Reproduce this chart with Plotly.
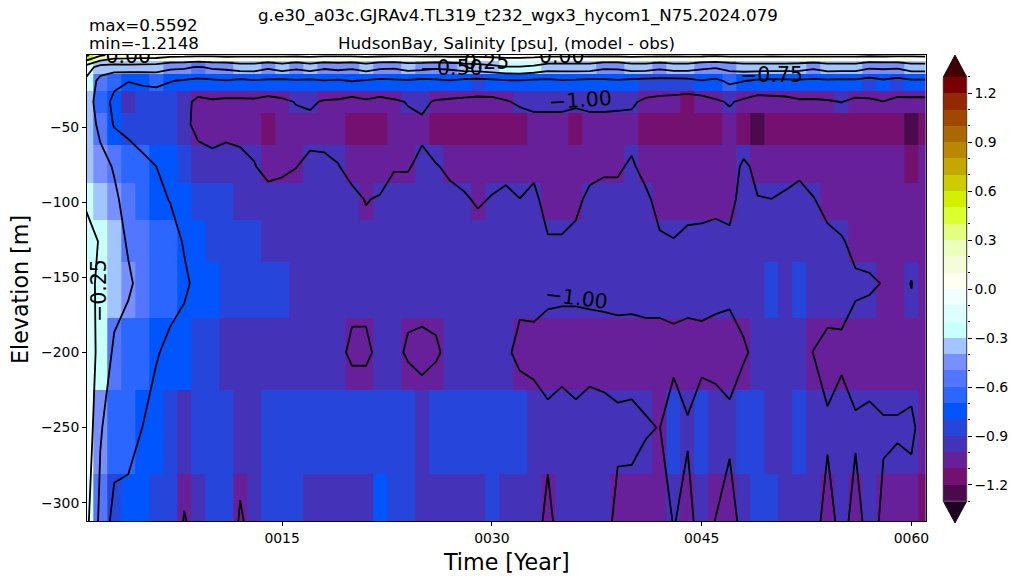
import plotly.graph_objects as go

# ---------------- data ----------------
years = list(range(1, 62))                      # time axis (year centres)
depth_m = [1.9, 10, 19, 33, 48, 76, 98, 126, 154, 200, 250, 312.2]   # layer centres [m]

# salinity difference (model - obs) [psu], one list per depth level, years 1..61
row_d002 = [0.55, 0.30, 0.16, 0.14, 0.13, 0.12, 0.08, 0.07, 0.06, 0.06,
            0.07, 0.06, 0.06, 0.07, 0.06, 0.06, 0.07, 0.06, 0.05, 0.06,
            0.07, 0.06, 0.06, 0.05, 0.06, 0.06, 0.07, 0.06, 0.06, 0.07,
            0.08, 0.08, 0.07, 0.06, 0.06, 0.06, 0.05, 0.06, 0.06, 0.07,
            0.06, 0.06, 0.05, 0.06, 0.06, 0.05, 0.06, 0.06, 0.06, 0.05,
            0.06, 0.06, 0.07, 0.06, 0.06, 0.06, 0.05, 0.06, 0.06, 0.05,
            0.06]
row_d010 = [-0.12, -0.36, -0.38, -0.36, -0.37, -0.38, -0.45, -0.46, -0.52, -0.46,
            -0.44, -0.38, -0.38, -0.46, -0.38, -0.45, -0.38, -0.46, -0.42, -0.46,
            -0.38, -0.45, -0.47, -0.40, -0.42, -0.46, -0.44, -0.38, -0.36, -0.32,
            -0.27, -0.27, -0.30, -0.38, -0.38, -0.38, -0.38, -0.45, -0.45, -0.38,
            -0.38, -0.44, -0.38, -0.38, -0.45, -0.48, -0.42, -0.38, -0.38, -0.38,
            -0.38, -0.40, -0.45, -0.38, -0.38, -0.38, -0.46, -0.45, -0.46, -0.38,
            -0.38]
row_d019 = [-0.30, -0.58, -0.70, -0.74, -0.72, -0.70, -0.74, -0.77, -0.80, -0.78,
            -0.76, -0.80, -0.77, -0.78, -0.80, -0.77, -0.79, -0.76, -0.78, -0.74,
            -0.77, -0.80, -0.78, -0.77, -0.80, -0.78, -0.76, -0.80, -0.82, -0.80,
            -0.77, -0.76, -0.79, -0.80, -0.77, -0.78, -0.80, -0.79, -0.77, -0.80,
            -0.82, -0.82, -0.83, -0.82, -0.76, -0.80, -0.70, -0.74, -0.78, -0.80,
            -0.79, -0.78, -0.80, -0.78, -0.80, -0.79, -0.84, -0.78, -0.83, -0.78,
            -0.78]
row_d033 = [-0.36, -0.64, -0.80, -0.91, -0.85, -0.86, -0.89, -0.93, -1.06, -1.03,
            -1.05, -1.04, -1.04, -1.08, -1.04, -0.99, -0.97, -1.02, -1.03, -1.08,
            -1.03, -1.06, -1.03, -0.99, -0.96, -1.02, -1.04, -1.05, -1.06, -1.06,
            -1.02, -0.96, -0.95, -0.95, -0.95, -0.95, -0.95, -0.95, -0.96, -0.97,
            -1.04, -1.07, -1.08, -1.11, -1.10, -1.03, -0.98, -1.04, -1.10, -1.08,
            -1.07, -1.03, -1.03, -1.02, -0.995, -1.05, -1.03, -1.005, -1.05, -1.06,
            -1.06]
row_d048 = [-0.36, -0.56, -0.77, -0.82, -0.85, -0.86, -0.90, -0.95, -1.06, -1.06,
            -1.06, -1.06, -1.07, -1.13, -1.06, -1.06, -1.05, -1.05, -1.06, -1.13,
            -1.12, -1.12, -1.05, -1.04, -1.03, -1.12, -1.13, -1.13, -1.12, -1.12,
            -1.13, -1.13, -1.06, -1.06, -1.06, -1.13, -1.06, -1.06, -1.06, -1.06,
            -1.14, -1.14, -1.14, -1.14, -1.14, -1.14, -1.07, -1.14, -1.24, -1.14,
            -1.14, -1.14, -1.14, -1.14, -1.14, -1.14, -1.14, -1.14, -1.14, -1.24,
            -1.14]
row_d076 = [-0.33, -0.42, -0.52, -0.62, -0.70, -0.75, -0.80, -0.86, -0.91, -0.955,
            -0.92, -0.95, -0.99, -1.06, -1.03, -1.003, -0.97, -0.975, -0.995, -1.04,
            -1.06, -1.06, -1.01, -1.01, -0.97, -0.99, -1.03, -1.06, -1.06, -1.06,
            -1.04, -1.06, -1.03, -1.08, -1.08, -1.07, -1.04, -1.02, -1.02, -0.98,
            -1.05, -1.08, -1.08, -1.08, -1.08, -1.08, -1.08, -0.97, -1.04, -1.06,
            -1.05, -1.03, -1.06, -1.07, -1.08, -1.08, -1.08, -1.08, -1.06, -1.13,
            -1.08]
row_d098 = [-0.27, -0.36, -0.46, -0.58, -0.66, -0.72, -0.755, -0.80, -0.84, -0.86,
            -0.88, -0.92, -0.93, -0.93, -0.94, -0.95, -0.95, -0.95, -0.96, -0.97,
            -1.005, -0.99, -0.95, -0.95, -0.94, -0.95, -0.96, -0.98, -1.02, -0.99,
            -0.97, -0.998, -0.97, -1.05, -1.05, -1.03, -0.97, -0.96, -0.96, -0.95,
            -0.97, -1.05, -1.06, -1.04, -1.04, -1.03, -1.04, -0.95, -0.995, -0.999,
            -0.98, -0.96, -0.995, -1.04, -1.06, -1.07, -1.07, -1.07, -1.06, -1.08,
            -1.08]
row_d126 = [-0.20, -0.26, -0.38, -0.53, -0.60, -0.65, -0.70, -0.76, -0.80, -0.82,
            -0.85, -0.87, -0.89, -0.92, -0.94, -0.95, -0.95, -0.94, -0.95, -0.96,
            -0.97, -0.96, -0.95, -0.95, -0.94, -0.95, -0.95, -0.95, -0.93, -0.95,
            -0.95, -0.95, -0.95, -0.99, -0.99, -0.97, -0.95, -0.95, -0.95, -0.95,
            -0.96, -0.982, -0.995, -0.975, -0.97, -0.965, -0.975, -0.95, -0.95, -0.96,
            -0.95, -0.95, -0.96, -0.97, -0.99, -1.03, -1.03, -1.05, -1.06, -1.05,
            -1.08]
row_d154 = [-0.17, -0.30, -0.38, -0.46, -0.58, -0.64, -0.70, -0.73, -0.78, -0.80,
            -0.84, -0.85, -0.86, -0.87, -0.88, -0.93, -0.94, -0.94, -0.94, -0.95,
            -0.95, -0.94, -0.94, -0.95, -0.95, -0.94, -0.94, -0.93, -0.94, -0.94,
            -0.94, -0.95, -0.95, -0.97, -0.975, -0.975, -0.97, -0.965, -0.957, -0.96,
            -0.95, -0.94, -0.93, -0.95, -0.94, -0.96, -0.97, -0.93, -0.93, -0.88,
            -0.93, -0.88, -0.92, -0.91, -0.94, -0.983, -0.99, -1.003, -1.04, -0.996,
            -1.08]
row_d200 = [-0.19, -0.28, -0.55, -0.62, -0.68, -0.74, -0.78, -0.80, -0.83, -0.86,
            -0.92, -0.93, -0.94, -0.94, -0.95, -0.95, -0.95, -0.96, -0.96, -1.03,
            -1.03, -0.96, -0.96, -1.02, -1.03, -1.02, -0.96, -0.95, -0.95, -0.95,
            -0.97, -1.045, -1.04, -1.05, -1.05, -1.05, -1.05, -1.05, -1.05, -1.05,
            -1.05, -1.06, -1.05, -1.05, -1.05, -1.05, -1.05, -1.02, -0.96, -0.95,
            -0.95, -0.96, -1.003, -1.05, -1.03, -1.05, -1.05, -1.05, -1.05, -1.05,
            -1.10]
row_d250 = [-0.05, -0.48, -0.62, -0.70, -0.75, -0.80, -0.84, -0.92, -0.86, -0.86,
            -0.86, -0.93, -0.93, -0.86, -0.86, -0.86, -0.86, -0.86, -0.86, -0.86,
            -0.86, -0.86, -0.86, -0.86, -0.93, -0.86, -0.86, -0.86, -0.86, -0.86,
            -0.86, -0.86, -0.93, -0.97, -0.94, -0.97, -0.94, -0.955, -0.975, -0.97,
            -0.99, -1.003, -0.90, -0.99, -0.90, -0.93, -0.97, -0.88, -0.86, -0.93,
            -0.93, -0.87, -0.92, -0.98, -0.93, -0.985, -0.973, -0.99, -0.99, -0.98,
            -1.05]
row_d312 = [-0.18, -0.56, -0.84, -0.80, -0.78, -0.84, -0.85, -1.01, -0.95, -0.86,
            -0.86, -1.02, -0.94, -0.86, -0.86, -0.86, -0.95, -0.95, -0.95, -0.95,
            -0.95, -0.76, -0.86, -0.86, -0.95, -0.95, -0.95, -0.95, -0.95, -0.86,
            -0.95, -0.95, -0.95, -1.03, -0.95, -0.95, -0.95, -0.95, -1.035, -1.045,
            -1.07, -1.05, -0.995, -1.03, -0.96, -1.003, -1.06, -0.95, -0.86, -0.86,
            -0.95, -0.95, -0.95, -1.05, -0.96, -1.04, -0.96, -1.02, -1.05, -1.05,
            -1.12]

salinity_diff = [row_d002, row_d010, row_d019, row_d033, row_d048, row_d076,
                 row_d098, row_d126, row_d154, row_d200, row_d250, row_d312]

# colour levels (-1.3 .. 1.3, step 0.1) and their colours
level_min, level_max, level_step = -1.3, 1.3, 0.1
bin_colors = ["#4b0a4d", "#731070", "#67209a", "#4433b8", "#2645da", "#0055ff",
              "#2a66ff", "#5276ff", "#7890ff", "#a2c4ff", "#c8ffff", "#dcffff",
              "#f0ffff", "#fffff2", "#f4fcda", "#ebffbf", "#e4ff80", "#dcff30",
              "#d4f000", "#cccc00", "#c4a800", "#b88800", "#aa6800", "#a04800",
              "#942800", "#780000"]
under_color = "#200022"
over_color = "#420000"

contour_levels = dict(start=-1.25, end=1.25, size=0.25)

cbar_ticks = [-1.2, -0.9, -0.6, -0.3, 0.0, 0.3, 0.6, 0.9, 1.2]
x_tick_years = [15, 30, 45, 60]
x_tick_text = ["0015", "0030", "0045", "0060"]
y_ticks = [-300, -250, -200, -150, -100, -50]

title_run = "g.e30_a03c.GJRAv4.TL319_t232_wgx3_hycom1_N75.2024.079"
title_var = "HudsonBay, Salinity [psu], (model - obs)"
stat_max = "max=0.5592"
stat_min = "min=-1.2148"

# horizontal contour labels (year, depth) and rotated ones
flat_label_text = ["0.00", "0.00", "\u22120.50", "\u22120.25", "\u22120.75"]
flat_label_year = [4.0, 35.0, 27.1, 29.0, 50.0]
flat_label_depth = [3.6, 3.6, 11.9, 7.9, 16.5]
rot_label_text = ["\u22121.00", "\u22121.00", "\u22120.25"]
rot_label_year = [36.36, 36.05, 1.9]
rot_label_depth = [31.8, 164.0, 158.4]
rot_label_angle = [-4, 7, -90]

# ---------------- figure ----------------
FONT = "DejaVu Sans"
n_bins = len(bin_colors)
colorscale = []
for i, c in enumerate(bin_colors):
    colorscale.append([i / n_bins, c])
    colorscale.append([(i + 1) / n_bins, c])

neg_depth = [-d for d in depth_m]

fig = go.Figure()
fig.add_trace(go.Heatmap(x=years, y=neg_depth, z=salinity_diff,
                         colorscale=colorscale, zmin=level_min, zmax=level_max,
                         showscale=False, hoverinfo="skip"))
fig.add_trace(go.Contour(x=years, y=neg_depth, z=salinity_diff,
                         contours=dict(coloring="lines", showlabels=False, **contour_levels),
                         colorscale=[[0, "black"], [1, "black"]],
                         line=dict(width=1.8, smoothing=0), showscale=False,
                         hoverinfo="skip"))
fig.add_trace(go.Scatter(x=flat_label_year, y=[-d for d in flat_label_depth],
                         text=flat_label_text, mode="text", textposition="middle center",
                         textfont=dict(family=FONT, size=20.5, color="black"),
                         hoverinfo="skip", showlegend=False))

# colour bar as its own small heatmap
mids = [round(level_min + level_step * (i + 0.5), 3) for i in range(n_bins)]
fig.add_trace(go.Heatmap(x=[0], y=mids, z=[[m] for m in mids], xaxis="x2", yaxis="y2",
                         colorscale=colorscale, zmin=level_min, zmax=level_max,
                         showscale=False, hoverinfo="skip"))

W, H = 1020, 584
ml, mr, mt, mb = 87, 20, 55, 63
pw, ph = W - ml - mr, H - mt - mb
def px(xp):
    return (xp - ml) / pw
def py(yp):
    return (H - mb - yp) / ph

main_right = px(925.7)
cb_x0, cb_x1 = px(943.3), px(966.7)
cb_xm = (cb_x0 + cb_x1) / 2
cb_y0, cb_y1 = py(501.3), py(76.9)
tip_top, tip_bot = py(55), py(523)

axis_common = dict(showline=True, linecolor="black", linewidth=1, mirror=True,
                   ticks="outside", ticklen=4, tickcolor="black", showgrid=False,
                   zeroline=False, tickfont=dict(family=FONT, size=13.9, color="black"))

fig.update_layout(
    width=W, height=H, margin=dict(l=ml, r=mr, t=mt, b=mb),
    paper_bgcolor="white", plot_bgcolor="white", showlegend=False,
    xaxis=dict(domain=[0, main_right], range=[1.05, 61.02], tickvals=x_tick_years,
               ticktext=x_tick_text, **axis_common),
    yaxis=dict(range=[-312.2, -1.86], tickvals=y_ticks, **axis_common),
    xaxis2=dict(domain=[cb_x0, cb_x1], range=[-0.5, 0.5], visible=False, anchor="y2"),
    yaxis2=dict(domain=[cb_y0, cb_y1], range=[level_min, level_max], anchor="x2",
                side="right", tickvals=cbar_ticks, tickformat=".1f", ticks="outside",
                ticklen=4, tickcolor="black", showgrid=False, zeroline=False,
                showline=False, tickfont=dict(family=FONT, size=13.9, color="black"),
                minor=dict(dtick=0.1, tick0=-1.3, ticks="outside", ticklen=2,
                           tickcolor="black")),
)

shapes = [
    dict(type="path", xref="paper", yref="paper",
         path=f"M {cb_x0},{cb_y1} L {cb_xm},{tip_top} L {cb_x1},{cb_y1} Z",
         fillcolor=over_color, line=dict(width=0)),
    dict(type="path", xref="paper", yref="paper",
         path=f"M {cb_x0},{cb_y0} L {cb_xm},{tip_bot} L {cb_x1},{cb_y0} Z",
         fillcolor=under_color, line=dict(width=0)),
    dict(type="path", xref="paper", yref="paper",
         path=(f"M {cb_xm},{tip_bot} L {cb_x0},{cb_y0} L {cb_x0},{cb_y1} L {cb_xm},{tip_top} "
               f"L {cb_x1},{cb_y1} L {cb_x1},{cb_y0} Z"),
         line=dict(color="black", width=0.8), fillcolor="rgba(0,0,0,0)"),
]
fig.update_layout(shapes=shapes)

ann = []
for t, xx, dd, ang in zip(rot_label_text, rot_label_year, rot_label_depth, rot_label_angle):
    ann.append(dict(text=t, x=xx, y=-dd, xref="x", yref="y", showarrow=False,
                    textangle=ang, font=dict(family=FONT, size=20.5, color="black"),
                    xanchor="center", yanchor="middle"))
ann += [
    dict(text=title_run, x=px(518), y=py(16), xref="paper", yref="paper",
         showarrow=False, xanchor="center", yanchor="middle",
         font=dict(family=FONT, size=16.7, color="black")),
    dict(text=title_var, x=main_right / 2, y=py(43), xref="paper", yref="paper",
         showarrow=False, xanchor="center", yanchor="middle",
         font=dict(family=FONT, size=16.7, color="black")),
    dict(text=stat_max, x=0, y=py(25), xref="paper", yref="paper", showarrow=False,
         xanchor="left", yanchor="middle", font=dict(family=FONT, size=16.7, color="black")),
    dict(text=stat_min, x=0, y=py(43), xref="paper", yref="paper", showarrow=False,
         xanchor="left", yanchor="middle", font=dict(family=FONT, size=16.7, color="black")),
    dict(text="Time [Year]", x=main_right / 2, y=py(562), xref="paper", yref="paper",
         showarrow=False, xanchor="center", yanchor="middle",
         font=dict(family=FONT, size=22.2, color="black")),
    dict(text="Elevation [m]", x=px(20), y=py(290), xref="paper", yref="paper",
         showarrow=False, xanchor="center", yanchor="middle", textangle=-90,
         font=dict(family=FONT, size=22.2, color="black")),
]
fig.update_layout(annotations=ann)

fig.write_html("out.html")
